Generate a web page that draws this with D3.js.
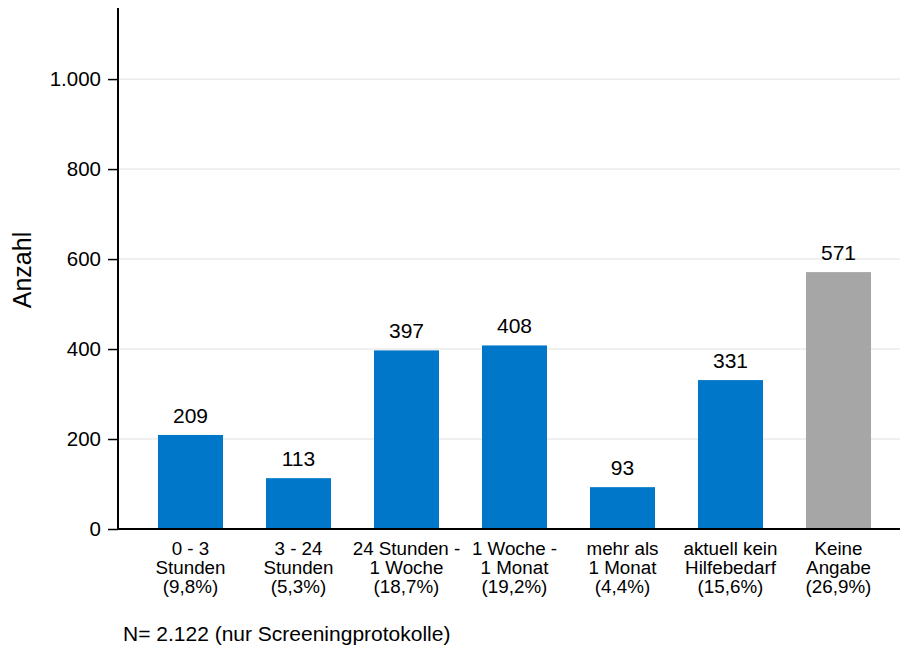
<!DOCTYPE html>
<html><head><meta charset="utf-8">
<script src="https://cdn.jsdelivr.net/npm/d3@7"></script>
<style>body{margin:0;background:#fff}text{font-family:"Liberation Sans",Arial,sans-serif;fill:#000}</style>
</head><body><svg id="c" width="901" height="651"></svg>
<script>
const categories = [
  ["0 - 3","Stunden","(9,8%)"],
  ["3 - 24","Stunden","(5,3%)"],
  ["24 Stunden -","1 Woche","(18,7%)"],
  ["1 Woche -","1 Monat","(19,2%)"],
  ["mehr als","1 Monat","(4,4%)"],
  ["aktuell kein","Hilfebedarf","(15,6%)"],
  ["Keine","Angabe","(26,9%)"]
];
const values = [209, 113, 397, 408, 93, 331, 571];
const barColors = ["#0077c8","#0077c8","#0077c8","#0077c8","#0077c8","#0077c8","#a6a6a6"];
const yTicks = [0, 200, 400, 600, 800, 1000];
const yTickLabels = ["0","200","400","600","800","1.000"];
const yTitle = "Anzahl";
const footnote = "N= 2.122 (nur Screeningprotokolle)";

const svg = d3.select("#c");
const x0 = 118, x1 = 900, yBase = 529, yTop = 8;
const y = d3.scaleLinear().domain([0, 1158]).range([yBase, yTop]);
const x = d3.scaleBand().domain(d3.range(values.length)).range([136.5, 892.5]).paddingInner(0.398).paddingOuter(0.199);

// gridlines
svg.append("g").selectAll("line").data(yTicks.filter(d => d > 0)).join("line")
  .attr("x1", x0).attr("x2", x1).attr("y1", d => y(d)).attr("y2", d => y(d))
  .attr("stroke", "#e1e1e1").attr("stroke-width", 1);

// bars
svg.append("g").selectAll("rect").data(values).join("rect")
  .attr("x", (d, i) => x(i)).attr("width", x.bandwidth())
  .attr("y", d => y(d)).attr("height", d => y(0) - y(d))
  .attr("fill", (d, i) => barColors[i]);

// value labels
svg.append("g").selectAll("text").data(values).join("text")
  .attr("x", (d, i) => x(i) + x.bandwidth() / 2).attr("y", d => y(d) - 12)
  .attr("text-anchor", "middle").attr("font-size", 21).text(d => d);

// y axis
const yAxis = d3.axisLeft(y).tickValues(yTicks).tickFormat((d, i) => yTickLabels[i]).tickSize(10).tickPadding(7);
const gy = svg.append("g").attr("transform", `translate(${x0},0)`).call(yAxis);
gy.select(".domain").remove();
gy.selectAll(".tick line").attr("stroke", "#000").attr("stroke-width", 1.5);
gy.selectAll(".tick text").attr("font-size", 20.5).attr("font-family", '"Liberation Sans",Arial,sans-serif').attr("fill", "#000");
svg.append("line").attr("x1", x0).attr("x2", x0).attr("y1", yTop).attr("y2", yBase + 1)
  .attr("stroke", "#000").attr("stroke-width", 2);

// x axis line
svg.append("line").attr("x1", x0 - 1).attr("x2", x1).attr("y1", yBase).attr("y2", yBase)
  .attr("stroke", "#000").attr("stroke-width", 2);

// category labels
const cl = svg.append("g").selectAll("text").data(categories).join("text")
  .attr("x", (d, i) => x(i) + x.bandwidth() / 2).attr("y", 555)
  .attr("text-anchor", "middle").attr("font-size", 18.8);
cl.selectAll("tspan").data(d => d).join("tspan")
  .attr("x", function() { return this.parentNode.getAttribute("x"); })
  .attr("dy", (d, i) => i === 0 ? 0 : 19).text(d => d);

// y title
svg.append("text").attr("transform", "translate(31,270) rotate(-90)")
  .attr("text-anchor", "middle").attr("font-size", 25).text(yTitle);

// footnote
svg.append("text").attr("x", 123).attr("y", 641).attr("font-size", 21).text(footnote);
</script></body></html>
